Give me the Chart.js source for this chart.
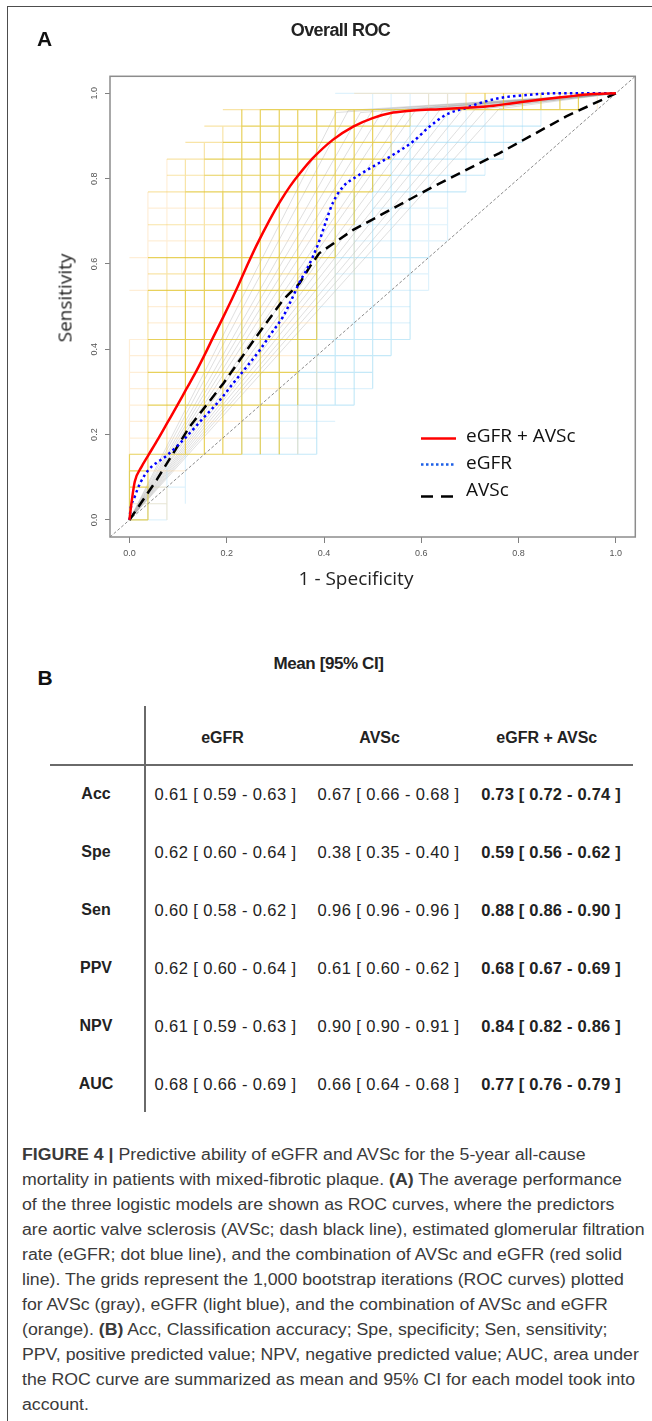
<!DOCTYPE html>
<html><head><meta charset="utf-8">
<script src="https://cdn.jsdelivr.net/npm/chart.js@4.4.1/dist/chart.umd.min.js"></script>
<style>
html,body{margin:0;padding:0;background:#fff;}
body{width:652px;height:1421px;position:relative;overflow:hidden;font-family:'Liberation Sans',Arial,sans-serif;color:#111;}
#frame{position:absolute;left:7px;top:6px;width:700px;height:1500px;border-left:1.5px solid #4d4d4d;border-top:1.5px solid #4d4d4d;}
#chartBox{position:absolute;left:0;top:0;width:652px;height:640px;}
.t{position:absolute;white-space:nowrap;line-height:1;}
.cap{position:absolute;left:21.6px;white-space:nowrap;line-height:1;font-family:'Liberation Sans Narrow','Liberation Sans',Arial,sans-serif;font-size:16px;color:#3a3a3a;transform-origin:0 50%;}
.hl{position:absolute;background:#6a6a6a;}
</style></head>
<body>
<div id="frame"></div>
<div id="chartBox"><canvas id="roc" width="652" height="640"></canvas></div>
<div id="texts"></div>
<script>
// ---------- data ----------
const xTickVals = [0, 0.2, 0.4, 0.6, 0.8, 1.0];
const yTickVals = [0, 0.2, 0.4, 0.6, 0.8, 1.0];
const axisRange = [-0.04, 1.04];

// mean ROC curves (x = 1 - specificity, y = sensitivity)
const comboFpr = [0, 0.005, 0.011, 0.025, 0.039, 0.059, 0.078, 0.098, 0.117, 0.138, 0.155, 0.172, 0.193, 0.21, 0.223, 0.241, 0.261, 0.288, 0.309, 0.33, 0.35, 0.377, 0.418, 0.46, 0.5, 0.542, 0.583, 0.638, 0.692, 0.733, 0.788, 0.843, 0.898, 0.946, 1.0];
const comboTpr = [0, 0.047, 0.09, 0.125, 0.152, 0.19, 0.228, 0.268, 0.307, 0.35, 0.388, 0.428, 0.476, 0.516, 0.548, 0.594, 0.643, 0.703, 0.745, 0.782, 0.812, 0.848, 0.891, 0.922, 0.942, 0.955, 0.96, 0.963, 0.966, 0.969, 0.977, 0.985, 0.992, 0.998, 1.0];
const egfrFpr = [0, 0.002, 0.011, 0.022, 0.039, 0.078, 0.117, 0.148, 0.186, 0.213, 0.241, 0.268, 0.292, 0.316, 0.333, 0.35, 0.364, 0.377, 0.391, 0.405, 0.418, 0.439, 0.467, 0.5, 0.542, 0.583, 0.617, 0.651, 0.692, 0.72, 0.761, 0.816, 0.87, 1.0];
const egfrTpr = [0, 0.023, 0.055, 0.086, 0.117, 0.152, 0.195, 0.234, 0.281, 0.32, 0.359, 0.398, 0.438, 0.477, 0.516, 0.558, 0.586, 0.617, 0.656, 0.703, 0.743, 0.781, 0.805, 0.828, 0.856, 0.887, 0.922, 0.95, 0.966, 0.977, 0.989, 0.996, 1.0, 1.0];
const avscFpr = [0, 0.056, 0.124, 0.193, 0.261, 0.316, 0.35, 0.371, 0.39, 0.46, 0.624, 0.761, 0.898, 1.0];
const avscTpr = [0, 0.094, 0.219, 0.32, 0.43, 0.516, 0.555, 0.594, 0.625, 0.68, 0.781, 0.86, 0.946, 1.0];

// bootstrap grid positions (steps of the bootstrap ROC staircases)
const gridPos = [0, 0.038, 0.077, 0.115, 0.154, 0.192, 0.231, 0.269, 0.308, 0.346, 0.385, 0.423, 0.462, 0.5, 0.538, 0.577, 0.615, 0.654, 0.692, 0.731, 0.769, 0.808, 0.846, 0.885, 0.923, 0.962, 1.0];
// combination bootstrap (orange): vertical [column, fromRow, toRow, density]
const comboVert = [[0,0,4,3],[0,4,11,1],[1,0,4,3],[1,4,14,2],[1,14,20,1],[2,0,2,1],[2,4,16,2],[2,16,22,1],
  [3,4,14,3],[3,14,22,2],[4,4,16,3],[4,16,23,2],[5,4,20,3],[5,20,24,2],[6,4,25,3],[7,4,25,3],[8,4,25,3],
  [9,7,25,3],[9,4,7,1],[10,11,25,3],[10,7,11,1],[11,16,25,3],[11,11,16,1],[12,18,25,3],[12,14,18,1],
  [13,20,25,3],[14,22,25,2],[15,24,25,2],[16,25,26,1],[17,25,26,1],[18,25,26,2],[19,25,26,3],[20,25,26,3],
  [21,25,26,3],[22,25,26,3],[23,25,26,3],[24,25,26,3],[25,25,26,1]];
// combination bootstrap (orange): horizontal [row, fromCol, toCol, density]
const comboHorz = [[0,0,1,3],[1,0,2,1],[2,0,1,3],[2,1,2,1],[3,0,1,3],[3,1,3,1],[4,0,6,3],[5,0,7,1],[6,0,7,1],
  [7,1,8,3],[7,0,1,1],[8,0,9,1],[9,1,9,3],[9,0,1,1],[10,0,9,1],[11,1,10,3],[11,0,1,1],[12,1,10,1],[13,1,10,1],
  [14,1,10,3],[14,0,1,1],[15,1,10,2],[16,1,11,3],[16,0,1,1],[17,1,11,1],[18,1,12,2],[19,1,12,1],
  [20,1,3,2],[20,3,13,3],[21,2,4,2],[21,4,14,3],[22,2,4,2],[22,4,14,3],[23,3,5,2],[23,5,14,3],
  [24,4,6,2],[24,6,15,3],[25,5,7,2],[25,7,24,3],[26,18,25,2],[26,12,18,1]];
// eGFR bootstrap (light blue)
const egfrVert = [[0,0,3,1],[1,0,2,1],[2,0,4,1],[3,1,4,1],[6,4,12,1],[7,4,13,1],[8,4,14,1],[9,4,14,2],[10,4,16,2],
  [11,7,18,2],[12,7,20,2],[13,8,21,2],[14,10,23,2],[15,11,25,2],[16,14,26,1],[17,17,26,1],[18,20,25,1],
  [19,21,25,1],[20,22,25,1],[21,23,25,1],[22,24,25,1],[13,25,26,1],[14,25,26,1],[15,25,26,1]];
const egfrHorz = [[0,0,2,1],[1,0,2,1],[2,1,3,1],[4,6,10,2],[5,6,10,1],[6,6,11,1],[7,8,12,2],[8,8,13,1],[9,9,13,2],
  [10,9,14,2],[11,10,15,2],[12,10,15,1],[13,10,15,1],[14,10,16,1],[15,11,16,1],[16,11,16,2],[17,12,17,1],
  [18,12,17,1],[19,13,17,1],[20,13,18,2],[21,14,19,2],[22,14,20,2],[23,14,21,2],[24,15,22,2],[26,11,18,1]];
// AVSc bootstrap (gray): operating points of the bootstrap curves
const avscBootFpr = [0.425, 0.45, 0.475, 0.5, 0.52, 0.545, 0.57, 0.59, 0.615, 0.64, 0.66, 0.685, 0.71, 0.735, 0.76];
const avscBootTpr = [0.955, 0.96, 0.955, 0.962, 0.958, 0.962, 0.96, 0.963, 0.96, 0.964, 0.96, 0.963, 0.962, 0.965, 0.964];

const legendLabels = ['eGFR + AVSc', 'eGFR', 'AVSc'];

// table B
const metricLabels = ['Acc', 'Spe', 'Sen', 'PPV', 'NPV', 'AUC'];
const modelLabels = ['eGFR', 'AVSc', 'eGFR + AVSc'];
const egfrMean = ['0.61','0.62','0.60','0.62','0.61','0.68'];
const egfrLo   = ['0.59','0.60','0.58','0.60','0.59','0.66'];
const egfrHi   = ['0.63','0.64','0.62','0.64','0.63','0.69'];
const avscMean = ['0.67','0.38','0.96','0.61','0.90','0.66'];
const avscLo   = ['0.66','0.35','0.96','0.60','0.90','0.64'];
const avscHi   = ['0.68','0.40','0.96','0.62','0.91','0.68'];
const comboMean = ['0.73','0.59','0.88','0.68','0.84','0.77'];
const comboLo   = ['0.72','0.56','0.86','0.67','0.82','0.76'];
const comboHi   = ['0.74','0.62','0.90','0.69','0.86','0.79'];

const captionLines = [
 '<b>FIGURE 4 |</b> Predictive ability of eGFR and AVSc for the 5-year all-cause',
 'mortality in patients with mixed-fibrotic plaque. <b>(A)</b> The average performance',
 'of the three logistic models are shown as ROC curves, where the predictors',
 'are aortic valve sclerosis (AVSc; dash black line), estimated glomerular filtration',
 'rate (eGFR; dot blue line), and the combination of AVSc and eGFR (red solid',
 'line). The grids represent the 1,000 bootstrap iterations (ROC curves) plotted',
 'for AVSc (gray), eGFR (light blue), and the combination of AVSc and eGFR',
 '(orange). <b>(B)</b> Acc, Classification accuracy; Spe, specificity; Sen, sensitivity;',
 'PPV, positive predicted value; NPV, negative predicted value; AUC, area under',
 'the ROC curve are summarized as mean and 95% CI for each model took into',
 'account.'
];

// ---------- build datasets ----------
function pts(xs, ys){ return xs.map((x,i)=>({x:x, y:ys[i]})); }
function segPts(vert, horz, level){
  const out = [];
  vert.filter(s=>s[3]===level).forEach(s=>{
    out.push({x:gridPos[s[0]], y:gridPos[s[1]]}, {x:gridPos[s[0]], y:gridPos[s[2]]}, {x:gridPos[s[0]], y:null});
  });
  horz.filter(s=>s[3]===level).forEach(s=>{
    out.push({x:gridPos[s[1]], y:gridPos[s[0]]}, {x:gridPos[s[2]], y:gridPos[s[0]]}, {x:gridPos[s[2]], y:null});
  });
  return out;
}
function avscBootPts(){
  const out = [];
  avscBootFpr.forEach((p,i)=>{ out.push({x:0,y:0},{x:p,y:avscBootTpr[i]},{x:1,y:1},{x:1,y:null}); });
  return out;
}
function ds(data, color, width, order, extra){
  return Object.assign({type:'scatter', data:data, showLine:true, borderColor:color, backgroundColor:color,
    borderWidth:width, pointRadius:0, pointHoverRadius:0, spanGaps:false, order:order, tension:0}, extra||{});
}
const datasets = [
  ds(pts(comboFpr, comboTpr), '#ff0000', 2.5, 0, {cubicInterpolationMode:'monotone'}),
  ds(pts(egfrFpr, egfrTpr), '#0000ff', 2.5, 1, {cubicInterpolationMode:'monotone', borderDash:[2.5,3.2]}),
  ds(pts(avscFpr, avscTpr), '#000000', 2.5, 2, {borderDash:[10,6]}),
  ds(pts(axisRange, axisRange), '#8a8a8a', 1, 3, {borderDash:[3,2]}),
  ds(segPts(comboVert, comboHorz, 3), 'rgba(226,196,45,0.78)', 1.2, 4),
  ds(segPts(comboVert, comboHorz, 2), 'rgba(242,202,80,0.5)', 1.2, 5),
  ds(segPts(comboVert, comboHorz, 1), 'rgba(252,205,140,0.35)', 1.2, 6),
  ds(segPts(egfrVert, egfrHorz, 2), 'rgba(150,215,242,0.55)', 1.2, 7),
  ds(segPts(egfrVert, egfrHorz, 1), 'rgba(170,222,246,0.38)', 1.2, 8),
  ds(avscBootPts(), 'rgba(130,130,130,0.33)', 0.8, 9)
];

const decor = {
  id:'decor',
  afterDraw(chart){
    const {ctx, chartArea:a, scales} = chart;
    const ys = scales.y;
    ctx.save();
    ctx.strokeStyle = '#8c8c8c'; ctx.lineWidth = 1.5; ctx.setLineDash([]);
    ctx.strokeRect(a.left, a.top, a.right - a.left, a.bottom - a.top);
    // rotated y tick labels
    ctx.fillStyle = '#555'; ctx.font = '9px "Liberation Sans", Arial, sans-serif';
    ctx.textAlign = 'center'; ctx.textBaseline = 'middle';
    ys.ticks.forEach(t=>{
      const py = ys.getPixelForValue(t.value);
      ctx.save(); ctx.translate(a.left - 15.5, py); ctx.rotate(-Math.PI/2);
      ctx.fillText(t.value.toFixed(1), 0, 0); ctx.restore();
    });
    // legend
    const lx0 = 421, lx1 = 456, tx = 466;
    const rows = [
      {label:legendLabels[0], color:'#ff0000', dash:[], ly:438.5, ty:436.7},
      {label:legendLabels[1], color:'#1d5fe6', dash:[2.5,2.5], ly:464.5, ty:463.5},
      {label:legendLabels[2], color:'#000000', dash:[12,8], ly:496.5, ty:490.7}
    ];
    rows.forEach(r=>{
      ctx.beginPath(); ctx.strokeStyle = r.color; ctx.lineWidth = 2.5; ctx.setLineDash(r.dash);
      ctx.moveTo(lx0, r.ly); ctx.lineTo(lx1, r.ly); ctx.stroke();
      ctx.setLineDash([]);
      ctx.fillStyle = '#111'; ctx.font = '19px "Open Sans", sans-serif';
      ctx.textAlign = 'left'; ctx.textBaseline = 'middle';
      ctx.fillText(r.label, tx, r.ty);
    });
    ctx.restore();
  }
};

new Chart(document.getElementById('roc'), {
  data: {datasets: datasets},
  options: {
    responsive:false, animation:false, devicePixelRatio:1, events:[],
    layout:{padding:{left:0, top:76.3, right:16.7, bottom:0}},
    plugins:{legend:{display:false}, tooltip:{enabled:false}, title:{display:false}},
    scales:{
      x:{type:'linear', position:'bottom', min:axisRange[0], max:axisRange[1],
        afterBuildTicks:s=>{ s.ticks = xTickVals.map(v=>({value:v})); },
        afterFit:s=>{ s.height = 103; },
        grid:{display:true, drawOnChartArea:false, drawTicks:true, tickLength:6, color:'#808080', lineWidth:1},
        border:{display:false},
        ticks:{font:{family:'"Liberation Sans", Arial, sans-serif', size:9}, color:'#555', padding:5,
          maxRotation:0, minRotation:0, autoSkip:false, callback:v=>Number(v).toFixed(1)}
      },
      y:{type:'linear', position:'left', min:axisRange[0], max:axisRange[1],
        afterBuildTicks:s=>{ s.ticks = yTickVals.map(v=>({value:v})); },
        afterFit:s=>{ s.width = 110; },
        grid:{display:true, drawOnChartArea:false, drawTicks:true, tickLength:5, color:'#808080', lineWidth:1},
        border:{display:false},
        ticks:{display:false}
      }
    }
  },
  plugins:[decor]
});

// ---------- html texts ----------
const T = document.getElementById('texts');
function place(html, cx, cy, style, rot){
  const d = document.createElement('div');
  d.className = 't';
  d.innerHTML = html;
  d.style.cssText = style;
  d.style.left = cx + 'px'; d.style.top = cy + 'px';
  d.style.transform = 'translate(-50%,-50%)' + (rot ? ' rotate(' + rot + 'deg)' : '');
  T.appendChild(d);
  return d;
}
const boldF = 'font-family:"Liberation Sans",Arial,sans-serif;font-weight:bold;';
place('A', 44.5, 37.5, boldF + 'font-size:21px;color:#111;');
place('Overall ROC', 340.5, 30, boldF + 'font-size:18px;letter-spacing:-0.6px;color:#222;');
place('Sensitivity', 64.5, 298, 'font-family:"Open Sans",sans-serif;font-size:19px;color:#222;', -90);
place('1 - Specificity', 356, 578, 'font-family:"Open Sans",sans-serif;font-size:19px;color:#222;');

place('B', 45, 677, boldF + 'font-size:21px;color:#111;');
place('Mean [95% CI]', 328.5, 663, boldF + 'font-size:17px;letter-spacing:-0.4px;color:#222;');
const headX = [222.5, 379.6, 546.8];
const cellX = [225.5, 388.5, 551];
const rowY = [794, 852, 910, 968, 1026, 1084];
modelLabels.forEach((m,i)=>place(m, headX[i], 738, boldF + 'font-size:16px;color:#222;'));
metricLabels.forEach((m,r)=>{
  place(m, 96, rowY[r], boldF + 'font-size:16px;color:#222;');
  const cells = [
    egfrMean[r] + ' [ ' + egfrLo[r] + ' - ' + egfrHi[r] + ' ]',
    avscMean[r] + ' [ ' + avscLo[r] + ' - ' + avscHi[r] + ' ]',
    comboMean[r] + ' [ ' + comboLo[r] + ' - ' + comboHi[r] + ' ]'
  ];
  cells.forEach((c,i)=>place(c, cellX[i], rowY[r],
    'font-family:"Liberation Sans",Arial,sans-serif;font-size:16.5px;letter-spacing:0.4px;color:#222;' + (i===2 ? 'font-weight:bold;letter-spacing:0.2px;' : '')));
});
// table rules
const v = document.createElement('div'); v.className='hl';
v.style.cssText = 'left:144.3px;top:706px;width:1.5px;height:406px;'; T.appendChild(v);
const h = document.createElement('div'); h.className='hl';
h.style.cssText = 'left:50px;top:764.3px;width:583px;height:1.5px;'; T.appendChild(h);

// caption
const capEls = captionLines.map((html,i)=>{
  const d = document.createElement('div');
  d.className = 'cap'; d.innerHTML = html;
  d.style.top = (1155 + 25*i) + 'px';
  T.appendChild(d);
  return d;
});
const natural = capEls[3].offsetWidth;
const f = 623 / natural;
capEls.forEach(d=>{ d.style.transform = 'translateY(-50%) scaleX(' + f + ')'; });
</script>
</body></html>
